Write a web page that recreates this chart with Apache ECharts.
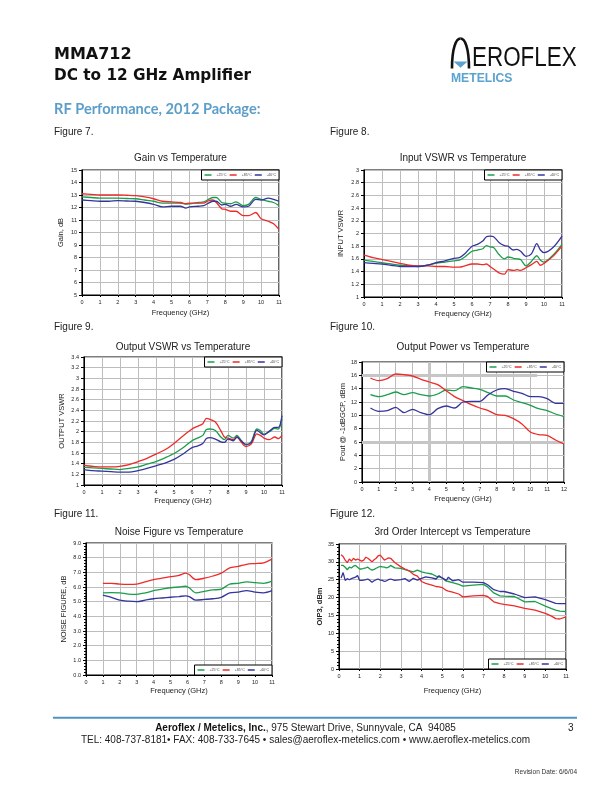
<!DOCTYPE html>
<html><head><meta charset="utf-8">
<script src="https://cdn.jsdelivr.net/npm/echarts@6/dist/echarts.min.js"></script>
<style>html,body{margin:0;padding:0;background:#fff}#c{width:612px;height:792px}</style>
</head><body><div id="c"></div>
<script>
const seriesNames = ['+25°C', '+85°C', '-40°C'];
const seriesColors = ['#1b9e4b', '#ee2a2a', '#34349c'];

// Figure 7 - Gain vs Temperature
const gainFreq = [0,0.5,1,1.5,2,2.5,3,3.5,4,4.5,5,5.5,5.8,6,6.5,6.8,7,7.3,7.5,7.8,8,8.3,8.6,9,9.3,9.7,10,10.4,10.7,11];
const gain25 = [12.85,12.8,12.75,12.75,12.75,12.72,12.7,12.6,12.5,12.35,12.35,12.35,12.28,12.3,12.4,12.45,12.6,12.8,12.8,12.4,12.35,12.3,12.45,12.15,12.25,12.8,12.65,12.5,12.4,12.15];
const gain85 = [13.1,13.05,13.0,13.0,13.0,12.98,12.95,12.85,12.7,12.5,12.45,12.4,12.3,12.35,12.35,12.35,12.5,12.6,12.4,11.9,11.85,11.7,11.7,11.35,11.35,11.6,11.1,10.9,10.7,10.25];
const gainM40 = [12.6,12.55,12.5,12.5,12.55,12.52,12.5,12.4,12.25,12.05,12.1,12.1,11.95,12.05,12.1,12.15,12.3,12.5,12.5,12.2,12.25,12.1,12.25,12.05,12.1,12.65,12.6,12.75,12.65,12.5];

// Figure 8 - Input VSWR vs Temperature
const inFreq = [0,0.5,1,1.5,2,2.5,3,3.5,4,4.5,5,5.3,5.6,6,6.3,6.6,6.8,7,7.2,7.5,7.8,8,8.3,8.5,8.7,9,9.3,9.6,9.8,10,10.5,11];
const in25 = [1.58,1.56,1.54,1.52,1.50,1.49,1.48,1.50,1.53,1.55,1.57,1.58,1.63,1.72,1.74,1.76,1.81,1.79,1.78,1.67,1.60,1.63,1.61,1.60,1.59,1.49,1.56,1.65,1.58,1.55,1.66,1.83];
const in85 = [1.66,1.62,1.59,1.56,1.53,1.50,1.49,1.49,1.48,1.48,1.47,1.47,1.49,1.52,1.52,1.51,1.52,1.48,1.44,1.38,1.36,1.43,1.42,1.43,1.42,1.46,1.51,1.56,1.50,1.53,1.64,1.80];
const inM40 = [1.54,1.53,1.52,1.50,1.48,1.48,1.48,1.50,1.54,1.57,1.61,1.62,1.68,1.80,1.83,1.88,1.95,1.96,1.95,1.86,1.81,1.80,1.74,1.75,1.72,1.64,1.68,1.84,1.74,1.70,1.78,1.96];

// Figure 9 - Output VSWR vs Temperature
const outFreq = [0,0.5,1,1.5,2,2.5,3,3.5,4,4.5,5,5.5,6,6.3,6.6,6.8,7,7.3,7.6,7.8,8,8.3,8.5,8.7,9,9.3,9.6,9.8,10,10.3,10.6,10.8,11];
const out25 = [1.33,1.32,1.31,1.30,1.29,1.31,1.34,1.39,1.44,1.51,1.59,1.70,1.83,1.88,1.93,2.04,2.05,2.02,1.90,1.85,1.93,1.88,1.93,1.85,1.75,1.82,2.05,2.02,1.95,2.00,2.06,2.05,2.24];
const out85 = [1.37,1.35,1.34,1.34,1.35,1.38,1.44,1.50,1.58,1.66,1.78,1.92,2.05,2.10,2.15,2.25,2.23,2.18,2.02,1.90,1.88,1.85,1.90,1.82,1.72,1.77,1.96,1.93,1.88,1.85,1.90,1.87,1.93];
const outM40 = [1.29,1.27,1.26,1.25,1.24,1.24,1.27,1.31,1.36,1.41,1.48,1.58,1.70,1.73,1.78,1.87,1.89,1.86,1.81,1.80,1.86,1.83,1.90,1.84,1.76,1.80,2.03,1.98,1.94,2.01,2.08,2.08,2.30];

// Figure 10 - Output Power vs Temperature
const powFreq = [0.5,1,1.5,2,2.5,3,3.5,4,4.5,5,5.5,6,6.5,7,7.5,8,8.5,9,9.5,10,10.5,11,11.5,12];
const pow25 = [13.1,12.8,13.1,13.5,13.1,13.4,13.1,12.9,13.2,13.8,13.7,14.3,14.1,13.9,13.4,12.9,12.9,12.3,11.9,11.5,11.0,10.7,10.2,9.8];
const pow85 = [15.6,15.2,15.5,16.2,16.1,15.9,15.4,15.0,14.6,13.7,12.8,12.2,11.6,11.1,10.7,10.1,10.0,9.5,8.7,7.5,7.1,7.0,6.3,5.7];
const powM40 = [11.1,10.6,10.7,11.2,10.4,10.9,10.4,10.1,11.0,11.4,11.1,12.0,12.1,12.1,13.1,13.8,14.0,13.6,13.3,12.8,12.8,12.5,11.8,11.8];

// Figure 11 - Noise Figure vs Temperature
const nfFreq = [1,1.5,2,2.5,3,3.5,4,4.5,5,5.5,5.9,6.1,6.5,7,7.5,8,8.5,9,9.5,10,10.5,11];
const nf25 = [5.6,5.62,5.6,5.52,5.5,5.6,5.75,5.85,5.95,6.0,6.05,5.95,5.6,5.7,5.8,5.85,6.2,6.25,6.35,6.3,6.25,6.4];
const nf85 = [6.25,6.25,6.2,6.18,6.2,6.35,6.5,6.6,6.7,6.8,6.95,6.85,6.5,6.6,6.75,6.95,7.3,7.4,7.55,7.6,7.65,7.9];
const nfM40 = [5.45,5.3,5.1,5.03,5.0,5.1,5.2,5.25,5.3,5.35,5.4,5.35,5.1,5.15,5.2,5.3,5.6,5.65,5.75,5.65,5.6,5.75];

// Figure 12 - 3rd Order Intercept vs Temperature
const ipFreq = [0.1,0.2,0.3,0.4,0.5,0.6,0.7,0.8,0.9,1.0,1.1,1.2,1.3,1.4,1.5,1.6,1.7,1.8,1.9,2.0,2.1,2.2,2.3,2.4,2.5,2.7,3.0,3.2,3.4,3.6,3.8,4.0,4.2,4.5,4.7,4.85,5.0,5.2,5.3,5.5,5.8,6.0,6.5,7.0,7.2,7.5,7.8,8.0,8.5,9.0,9.5,10.0,10.3,10.5,10.7,11.0];
const ip25 = [29.0,29.0,28.5,27.8,28.5,28.3,28.8,29.0,28.5,28.0,28.0,28.2,28.3,28.5,28.0,27.7,27.9,28.2,28.5,28.7,28.6,28.5,28.3,28.5,29.0,28.3,28.2,27.8,27.5,27.2,27.7,27.2,26.9,26.6,26.0,25.8,25.5,24.6,24.5,24.2,23.7,23.2,23.5,23.7,23.0,21.3,20.5,20.4,20.3,18.8,18.9,17.6,16.9,16.5,16.2,16.1];
const ip85 = [32.0,31.5,30.5,29.8,30.8,30.2,31.0,30.5,30.8,30.5,30.2,30.5,31.3,31.0,30.5,30.0,30.6,31.0,31.7,31.9,31.2,30.5,30.8,31.1,31.0,29.8,28.6,28.0,27.5,26.5,26.0,24.5,24.0,23.5,23.1,23.0,22.8,22.0,21.8,21.5,21.0,20.2,20.5,20.6,20.3,18.8,18.3,18.1,17.7,17.0,16.5,15.6,14.8,14.1,14.0,14.6];
const ipM40 = [25.5,27.0,24.8,25.3,25.0,25.3,25.5,25.7,26.2,24.8,24.8,24.9,25.0,25.2,24.8,24.3,24.7,25.0,25.2,24.9,24.8,24.5,24.7,25.0,25.2,24.8,25.0,25.3,24.5,25.4,24.9,25.4,25.8,25.5,25.2,26.1,25.5,24.8,25.7,24.7,25.0,24.3,24.3,24.2,23.6,22.2,21.7,21.7,21.0,20.0,20.2,19.4,18.8,18.4,18.3,18.3];

const FONT = '"Liberation Sans", Arial, sans-serif';

const charts = [
  {title:'Gain vs Temperature', l:82, t:170, w:197, h:125, titleY:158.2, xMax:11, yMin:5, yMax:15, yInt:1,
   yName:'Gain, dB', yGap:17, xGap:14, legend:'top', freq:gainFreq, vals:[gain25,gain85,gainM40], smooth:0.3},
  {title:'Input VSWR vs Temperature', l:364, t:170, w:198, h:127, titleY:158.5, xMax:11, yMin:1, yMax:3, yInt:0.2,
   yName:'INPUT VSWR', yGap:19, xGap:13, legend:'top', freq:inFreq, vals:[in25,in85,inM40], smooth:0.3},
  {title:'Output VSWR vs Temperature', l:84, t:357, w:198, h:128, titleY:347.5, xMax:11, yMin:1, yMax:3.4, yInt:0.2,
   yName:'OUTPUT VSWR', yGap:18, xGap:12, legend:'top', freq:outFreq, vals:[out25,out85,outM40], smooth:0.3},
  {title:'Output Power vs Temperature', l:362, t:362, w:202, h:120, titleY:347.5, xMax:12, yMin:0, yMax:18, yInt:2,
   yName:'Pout @ -1dBGCP, dBm', yGap:15, xGap:13, legend:'top', freq:powFreq, vals:[pow25,pow85,powM40], smooth:0.3},
  {title:'Noise Figure vs Temperature', l:86, t:543, w:186, h:132, titleY:532.2, xMax:11, yMin:0, yMax:9, yInt:1,
   yName:'NOISE FIGURE, dB', yGap:18, xGap:12, legend:'bottom', freq:nfFreq, vals:[nf25,nf85,nfM40], smooth:0.3,
   yFmt:(v)=>v.toFixed(1), minor:true},
  {title:'3rd Order Intercept vs Temperature', l:339, t:544, w:227, h:125, titleY:532.5, xMax:11, yMin:0, yMax:35, yInt:5,
   yName:'OIP3, dBm', yGap:12, xGap:18, legend:'bottom', freq:ipFreq, vals:[ip25,ip85,ipM40], smooth:false,
   minor:true, yBold:true}
];

const grid = [], xAxis = [], yAxis = [], series = [], legend = [], graphic = [];

charts.forEach((c, i) => {
  grid.push({left:c.l, top:c.t, width:c.w, height:c.h, show:true, borderColor:'#000', borderWidth:1.2, backgroundColor:'#fff'});
  xAxis.push({
    type:'value', gridIndex:i, min:0, max:c.xMax, interval:1,
    name:'Frequency (GHz)', nameLocation:'middle', nameGap:c.xGap,
    nameTextStyle:{fontFamily:FONT, fontSize:7.5, color:'#222'},
    axisLine:{show:true, lineStyle:{color:'#000', width:1}},
    axisTick:{show:true, length:2, lineStyle:{color:'#000'}},
    axisLabel:{fontFamily:FONT, fontSize:5.5, color:'#222', margin:4},
    splitLine:{show:true, lineStyle:{color:'#bdbdbd', width:1}}
  });
  yAxis.push({
    type:'value', gridIndex:i, min:c.yMin, max:c.yMax, interval:c.yInt,
    name:c.yName, nameLocation:'middle', nameRotate:90, nameGap:c.yGap,
    nameTextStyle:{fontFamily:FONT, fontSize:7.5, color:'#222', fontWeight:c.yBold ? 'bold' : 'normal'},
    axisLine:{show:true, lineStyle:{color:'#000', width:1}},
    axisTick:{show:true, length:3, lineStyle:{color:'#000'}},
    minorTick:{show:!!c.minor, splitNumber:5, length:2, lineStyle:{color:'#000'}},
    axisLabel:{fontFamily:FONT, fontSize:5.5, color:'#222', margin:5,
      formatter: c.yFmt ? c.yFmt : (v)=>String(Math.round(v*100)/100)},
    splitLine:{show:true, lineStyle:{color:'#bdbdbd', width:1}}
  });
  c.vals.forEach((vals, k) => {
    series.push({
      name:seriesNames[k], type:'line', xAxisIndex:i, yAxisIndex:i,
      data:c.freq.map((f, j) => [f, vals[j]]),
      showSymbol:false, symbol:'none', smooth:c.smooth,
      lineStyle:{color:seriesColors[k], width:1.3}, itemStyle:{color:seriesColors[k]},
      z:3, silent:true
    });
  });
  const legendTop = c.legend === 'top' ? c.t : c.t + c.h - 10;
  legend.push({
    data:seriesNames, right:612 - (c.l + c.w), top:legendTop, orient:'horizontal',
    itemWidth:7, itemHeight:1.5, itemGap:3, icon:'rect', selectedMode:false,
    padding:[3,3,3,3], borderColor:'#000', borderWidth:1, backgroundColor:'#fff',
    textStyle:{fontFamily:FONT, fontSize:3.6, color:'#444'}
  });
  graphic.push({type:'text', x:c.l + c.w/2, y:c.titleY,
    style:{text:c.title, fontFamily:FONT, fontSize:10, fill:'#222', align:'center', verticalAlign:'middle'}});
});

// thick grey reference lines in Figure 10 (drawn beneath the curves)
series.push({
  type:'line', xAxisIndex:3, yAxisIndex:3, data:[], z:1, silent:true,
  markLine:{silent:true, z:1, symbol:['none','none'], label:{show:false},
    lineStyle:{color:'#c6c6c6', width:3, type:'solid'},
    data:[
      [{coord:[0,16]},{coord:[10.4,16]}],
      [{coord:[0,6]},{coord:[12,6]}],
      [{coord:[4,0]},{coord:[4,18]}]
    ]}
});

const BLUE = '#5b9ec9';
// page header
graphic.push(
  {type:'text', x:54, y:55.2, style:{text:'MMA712', fontFamily:'"DejaVu Sans", sans-serif', fontWeight:'bold', fontSize:16, fill:'#111', verticalAlign:'middle'}},
  {type:'text', x:54, y:76.2, style:{text:'DC to 12 GHz Amplifier', fontFamily:'"DejaVu Sans", sans-serif', fontWeight:'bold', fontSize:15.3, fill:'#111', verticalAlign:'middle'}},
  {type:'text', x:54, y:109.4, style:{text:'RF Performance, 2012 Package:', fontFamily:'Lato, sans-serif', fontWeight:'bold', fontSize:14.6, fill:BLUE, verticalAlign:'middle'}},
  {type:'text', x:54, y:132.6, style:{text:'Figure 7.', fontFamily:FONT, fontSize:10, fill:'#222', verticalAlign:'middle'}},
  {type:'text', x:330, y:132.6, style:{text:'Figure 8.', fontFamily:FONT, fontSize:10, fill:'#222', verticalAlign:'middle'}},
  {type:'text', x:54, y:327, style:{text:'Figure 9.', fontFamily:FONT, fontSize:10, fill:'#222', verticalAlign:'middle'}},
  {type:'text', x:330, y:327, style:{text:'Figure 10.', fontFamily:FONT, fontSize:10, fill:'#222', verticalAlign:'middle'}},
  {type:'text', x:54, y:514.5, style:{text:'Figure 11.', fontFamily:FONT, fontSize:10, fill:'#222', verticalAlign:'middle'}},
  {type:'text', x:330, y:514.5, style:{text:'Figure 12.', fontFamily:FONT, fontSize:10, fill:'#222', verticalAlign:'middle'}},
  // logo
  {type:'bezierCurve', shape:{x1:452, y1:68.5, cpx1:452, cpy1:48, cpx2:456, cpy2:38.5, x2:460.5, y2:38.5},
   style:{fill:'none', stroke:'#111', lineWidth:2.6}},
  {type:'bezierCurve', shape:{x1:460.5, y1:38.5, cpx1:465, cpy1:38.5, cpx2:469, cpy2:48, x2:469, y2:68.5},
   style:{fill:'none', stroke:'#111', lineWidth:2.6}},
  {type:'polygon', shape:{points:[[453.5,61.5],[467.5,61.5],[460.5,67.8]]}, style:{fill:'#5aa3d0'}},
  {type:'text', x:472, y:58.5, scaleX:0.83, style:{text:'EROFLEX', fontFamily:FONT, fontSize:27, fill:'#111', verticalAlign:'middle'}},
  {type:'text', x:451, y:78.6, scaleX:0.9, style:{text:'METELICS', fontFamily:FONT, fontWeight:'bold', fontSize:13.5, fill:'#5aa3d0', verticalAlign:'middle'}},
  // footer
  {type:'rect', shape:{x:53, y:716.8, width:524, height:2}, style:{fill:'#4f93c0'}},
  {type:'text', x:305.5, y:728.3, style:{
    text:'{b|Aeroflex / Metelics, Inc.}, 975 Stewart Drive, Sunnyvale, CA  94085',
    fontFamily:FONT, fontSize:10, fill:'#222', align:'center', verticalAlign:'middle',
    rich:{b:{fontFamily:FONT, fontWeight:'bold', fontSize:10, fill:'#111'}}}},
  {type:'text', x:305.5, y:740.3, style:{
    text:'TEL: 408-737-8181\u2022 FAX: 408-733-7645 \u2022 sales@aeroflex-metelics.com \u2022 www.aeroflex-metelics.com',
    fontFamily:FONT, fontSize:10, fill:'#222', align:'center', verticalAlign:'middle'}},
  {type:'text', x:568, y:728.3, style:{text:'3', fontFamily:FONT, fontSize:10, fill:'#222', verticalAlign:'middle'}},
  {type:'text', x:577, y:771.8, style:{text:'Revision Date: 6/6/04', fontFamily:FONT, fontSize:6.5, fill:'#333', align:'right', verticalAlign:'middle'}}
);

const chart = echarts.init(document.getElementById('c'), null, {renderer:'canvas'});
chart.setOption({
  animation:false, backgroundColor:'#fff',
  color:seriesColors,
  grid, xAxis, yAxis, series, legend, graphic
});
</script></body></html>
